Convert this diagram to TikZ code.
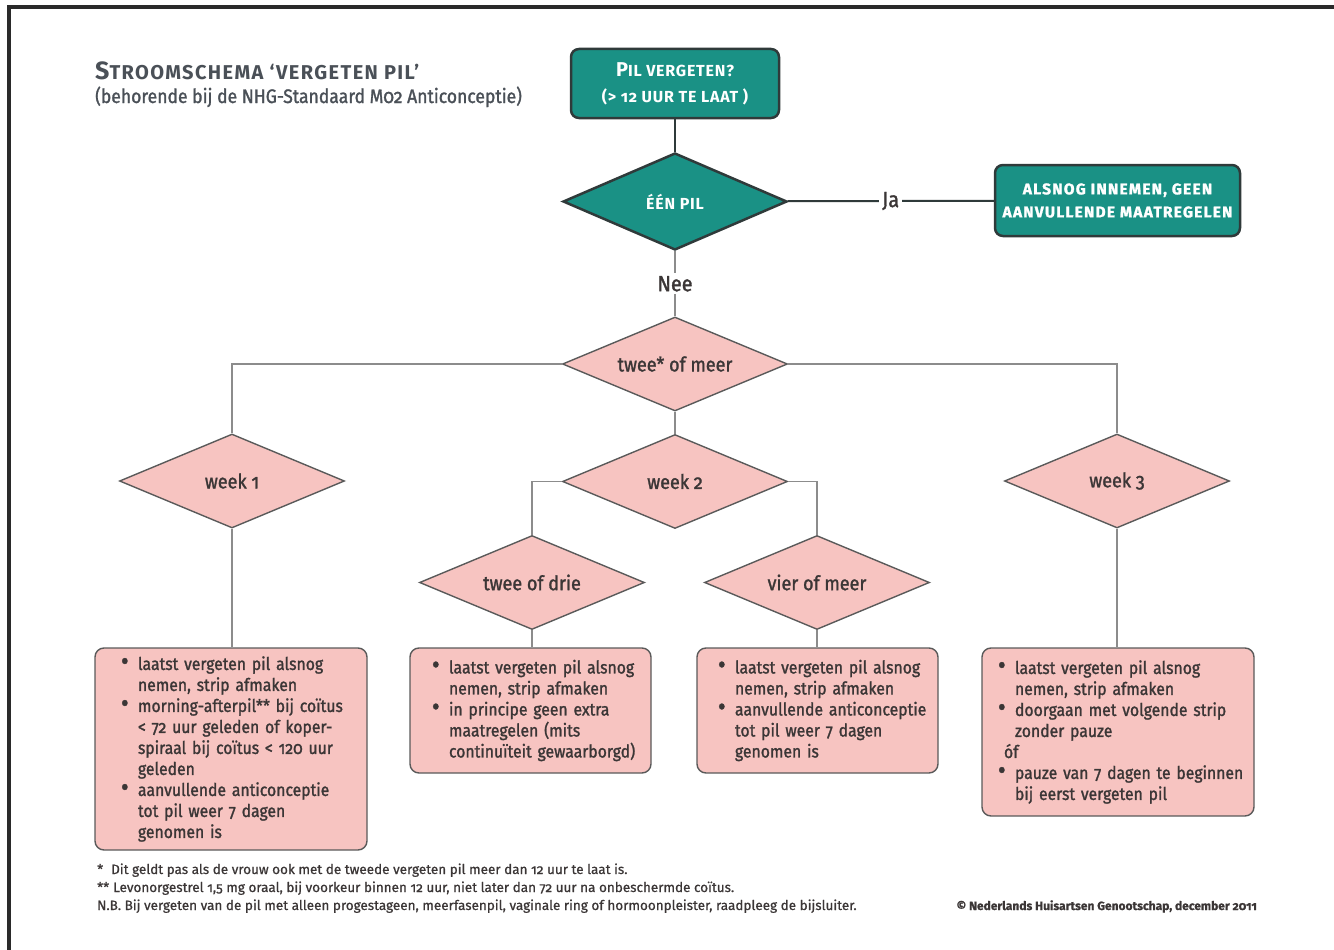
\documentclass[tikz,border=0pt]{standalone}
\usepackage{fontspec}
\setmainfont{Fira Sans}[FakeStretch=0.9,FakeBold=1.4,Numbers=OldStyle]
\newfontfamily\notefont{Fira Sans}[FakeBold=0.8,Numbers=OldStyle]
\newfontfamily\capsfont{Fira Sans}[Numbers=OldStyle]
\usepackage{tikz}
\usetikzlibrary{shapes.geometric}
\usetikzlibrary{positioning}

\definecolor{nhgteal}{HTML}{1A9185}
\definecolor{pinkfill}{HTML}{F7C4C1}
\definecolor{darkline}{HTML}{2F3A3A}
\definecolor{diamgrey}{HTML}{5A5A5A}
\definecolor{linegrey}{HTML}{8C8C8C}
\definecolor{textgrey}{HTML}{3B3636}
\definecolor{titlegrey}{HTML}{4A5057}
\definecolor{framedark}{HTML}{2A2A2A}

\newcommand{\bul}[1]{\mbox{\makebox[17pt][l]{\scalebox{1.5}{\textbullet}}#1}}
\newcommand{\cnt}[1]{\mbox{\hspace*{17pt}#1}}

\tikzset{
  tealbox/.style={draw=darkline, line width=2.5pt, fill=nhgteal, rounded corners=8pt,
    text=white, align=center, inner sep=0pt},
  tealdiam/.style={diamond, aspect=2.4, draw=darkline, line width=2.5pt, fill=nhgteal, text=white,
    font=\capsfont\bfseries\fontsize{16}{18}\selectfont\addfontfeature{LetterSpace=5},
    minimum width=224pt, minimum height=97pt, inner sep=0pt},
  pinkdiam/.style={diamond, aspect=2.4, draw=diamgrey, line width=1.4pt, fill=pinkfill, text=textgrey,
    font=\fontsize{20}{22}\selectfont, minimum width=225pt, minimum height=94pt, inner sep=0pt},
  pinkbox/.style={draw=diamgrey, line width=1.4pt, fill=pinkfill, rounded corners=9pt,
    text=textgrey, font=\fontsize{17.5}{21}\selectfont, align=left, inner ysep=0pt},
  darkcon/.style={draw=darkline, line width=2pt},
  greycon/.style={draw=linegrey, line width=1.5pt},
  answer/.style={fill=white, text=textgrey, font=\fontsize{22}{24}\selectfont, inner sep=3pt},
  note/.style={text=textgrey, font=\notefont\fontsize{13.5}{15}\selectfont, inner sep=0pt, anchor=base west}
}

\begin{document}
\begin{tikzpicture}[x=1pt,y=-1pt]
  \useasboundingbox (0,0) rectangle (1334,950);
  % frame
  \fill[framedark] (7,5) rectangle (1334,9);
  \fill[framedark] (7,5) rectangle (11,950);

  % title
  \node[anchor=base west, inner sep=0pt, text=titlegrey, font=\capsfont\bfseries\fontsize{20}{22}\selectfont\addfontfeature{LetterSpace=7}] (ttl) at (95,80)
    {{\fontsize{25}{25}\selectfont S}TROOMSCHEMA ‘VERGETEN PIL’};
  \node[anchor=base west, inner sep=0pt, text=titlegrey, font=\fontsize{19.5}{21}\selectfont] (subttl) at (95,103)
    {(behorende bij de NHG-Standaard M02 Anticonceptie)};

  % top part
  \node[tealbox, minimum width=208pt, minimum height=69pt, font=\capsfont\bfseries\fontsize{16}{26}\selectfont\addfontfeature{LetterSpace=5}] (pil) at (675,83.5)
    {{\fontsize{20}{20}\selectfont P}IL VERGETEN?\\(> 12 UUR TE LAAT )};
  \node[tealdiam] (een) at (675,201.5) {ÉÉN PIL};
  \node[tealbox, minimum width=245pt, minimum height=71pt, font=\capsfont\bfseries\fontsize{15.5}{23}\selectfont\addfontfeature{LetterSpace=8,FakeBold=1.5}] (alsnog) at (1117.5,200.5)
    {ALSNOG INNEMEN, GEEN\\AANVULLENDE MAATREGELEN};

  % diamonds
  \node[pinkdiam] (twee) at (675,364) {twee* of meer};
  \node[pinkdiam] (w1) at (232,481) {week 1};
  \node[pinkdiam] (w2) at (675,481.5) {week 2};
  \node[pinkdiam] (w3) at (1117,481) {week 3};
  \node[pinkdiam] (td) at (532,582.5) {twee of drie};
  \node[pinkdiam] (vm) at (817,582.5) {vier of meer};

  % advice boxes
  \node[pinkbox, text width=220pt, inner xsep=26pt, minimum height=202pt] (b1) at (231,749)
    {\bul{laatst vergeten pil alsnog}\\\cnt{nemen, strip afmaken}\\
     \bul{morning-afterpil** bij coïtus}\\\cnt{< 72 uur geleden of koper-}\\
     \cnt{spiraal bij coïtus < 120 uur}\\\cnt{geleden}\\
     \bul{aanvullende anticonceptie}\\\cnt{tot pil weer 7 dagen}\\\cnt{genomen is}};
  \node[pinkbox, text width=197pt, inner xsep=22pt, minimum height=125pt] (b2) at (530.5,710.5)
    {\bul{laatst vergeten pil alsnog}\\\cnt{nemen, strip afmaken}\\
     \bul{in principe geen extra}\\\cnt{maatregelen (mits}\\\cnt{continuïteit gewaarborgd)}};
  \node[pinkbox, text width=199pt, inner xsep=21pt, minimum height=125pt] (b3) at (817.5,710.5)
    {\bul{laatst vergeten pil alsnog}\\\cnt{nemen, strip afmaken}\\
     \bul{aanvullende anticonceptie}\\\cnt{tot pil weer 7 dagen}\\\cnt{genomen is}};
  \node[pinkbox, text width=240pt, inner xsep=16pt, minimum height=168pt] (b4) at (1118,732)
    {\bul{laatst vergeten pil alsnog}\\\cnt{nemen, strip afmaken}\\
     \bul{doorgaan met volgende strip}\\\cnt{zonder pauze}\\
     \mbox{\hspace*{6pt}óf}\\
     \bul{pauze van 7 dagen te beginnen}\\\cnt{bij eerst vergeten pil}};

  % connectors
  \path[darkcon] (pil) edge (een)
    (een) edge node[answer] (ja) {Ja} (alsnog);
  \path[greycon] (een) edge node[answer] (nee) {Nee} (twee)
    (twee) edge (w2);
  \draw[greycon] (twee.west) -| (w1.north);
  \draw[greycon] (twee.east) -| (w3.north);
  \draw[greycon] (w2.west) -| (td.north);
  \draw[greycon] (w2.east) -| (vm.north);
  \draw[greycon] (w1.south) -- (w1.south |- b1.north);
  \draw[greycon] (td.south) -- (td.south |- b2.north);
  \draw[greycon] (vm.south) -- (vm.south |- b3.north);
  \draw[greycon] (w3.south) -- (w3.south |- b4.north);

  % footnotes
  \node[note] (fn1) at (97,874) {\makebox[14pt][l]{*}Dit geldt pas als de vrouw ook met de tweede vergeten pil meer dan 12 uur te laat is.};
  \node[note] (fn2) at (97,892) {\makebox[16pt][l]{**}Levonorgestrel 1,5 mg oraal, bij voorkeur binnen 12 uur, niet later dan 72 uur na onbeschermde coïtus.};
  \node[note] (fn3) at (97,910) {N.B. Bij vergeten van de pil met alleen progestageen, meerfasenpil, vaginale ring of hormoonpleister, raadpleeg de bijsluiter.};
  \node[note, anchor=base east, font=\notefont\bfseries\fontsize{12}{13}\selectfont] (copy) at (1257,910) {© Nederlands Huisartsen Genootschap, december 2011};
\end{tikzpicture}
\end{document}
